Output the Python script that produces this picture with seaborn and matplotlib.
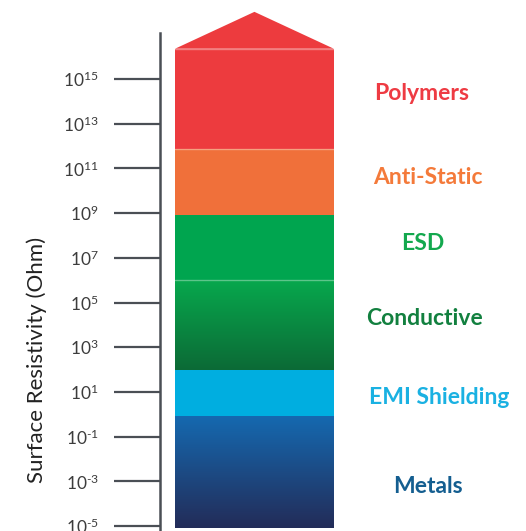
import numpy as np
import pandas as pd
import seaborn as sns
import matplotlib.pyplot as plt
from matplotlib.colors import LinearSegmentedColormap

# Surface resistivity classes (values are log10 of Ohm)
band_names = ['Metals', 'EMI Shielding', 'Conductive', 'ESD', 'Anti-Static', 'Polymers']
band_low = [-5.1, -0.1, 2, 6, 8.9, 11.85]
band_high = [-0.1, 2, 6, 8.9, 11.85, 16.35]
band_top_color = ['#1569B0', '#00AEE0', '#07A84D', '#00A54F', '#F0703A', '#ED3B3E']
band_bottom_color = ['#232C58', '#00AEE0', '#0C6A36', '#00A54F', '#F0703A', '#ED3B3E']
label_colors = ['#145E90', '#1AB1E2', '#12803F', '#13A84E', '#F47A3A', '#EE3B43']
label_at = [-3.25, 0.77, 4.3, 7.66, 10.6, 14.37]
label_x = [0.732, 0.762, 0.724, 0.719, 0.732, 0.716]
roof_apex = 18.0

tick_exps = [-5, -3, -1, 1, 3, 5, 7, 9, 11, 13, 15]

df = pd.DataFrame({'name': band_names, 'low': band_low, 'high': band_high,
                   'top': band_top_color, 'bottom': band_bottom_color,
                   'label_color': label_colors, 'label_at': label_at,
                   'label_x': label_x})

sns.set_style('white')
plt.rcParams['font.family'] = ['Lato', 'DejaVu Sans']
plt.rcParams['mathtext.fontset'] = 'custom'
plt.rcParams['mathtext.rm'] = 'Lato'
plt.rcParams['mathtext.it'] = 'Lato:italic'
plt.rcParams['mathtext.bf'] = 'Lato:bold'

fig = plt.figure(figsize=(5.26, 5.31), dpi=100)
ax = fig.add_axes([160 / 526, 0, 366 / 526, 1])
ax.set_xlim(0, 1)
ax.set_ylim(-5.22, 18.53)

x0, x1 = 0.041, 0.475
xc, w = (x0 + x1) / 2, x1 - x0

for _, r in df.iterrows():
    if r['top'] == r['bottom']:
        ax.bar(xc, r['high'] - r['low'], bottom=r['low'], width=w,
               color=r['top'], linewidth=0)
    else:
        cmap = LinearSegmentedColormap.from_list(r['name'], [r['bottom'], r['top']])
        grad = np.linspace(0, 1, 256).reshape(-1, 1)
        ax.imshow(grad, extent=(x0, x1, r['low'], r['high']), origin='lower',
                  cmap=cmap, aspect='auto', zorder=2)
    ax.text(r['label_x'], r['label_at'], r['name'], color=r['label_color'],
            fontsize=16.5, fontweight='bold', ha='center', va='center')

# arrow roof on top of the polymers band
top = df['high'].max()
ax.fill([x0, xc, x1], [top, roof_apex, top], color=df['top'].iloc[-1], linewidth=0)
for yy in [band_low[3], band_low[5], top]:
    ax.plot([x0, x1], [yy, yy], color='white', alpha=0.35, lw=1, zorder=3)

def exp_label(e):
    s = str(e).replace('-', '\u2010')
    return r'$\mathregular{10^{%s}}$' % s

ax.set_yticks(tick_exps)
ax.set_yticklabels([exp_label(e) for e in tick_exps])
ax.tick_params(axis='y', left=True, direction='out', length=33, width=1.6,
               color='#4A4F55', pad=11, labelsize=12.5, labelcolor='#3C3C3C')
ax.set_xticks([])
sns.despine(ax=ax, bottom=True)
ax.spines['left'].set_color('#4A4F55')
ax.spines['left'].set_linewidth(1.8)
ax.spines['left'].set_bounds(-5.22, 17.06)

ax.set_ylabel('Surface Resistivity (Ohm)', fontsize=16, color='#222222')
ax.yaxis.set_label_coords(-0.31, 0.322)

fig.savefig('out.png', dpi=100)
